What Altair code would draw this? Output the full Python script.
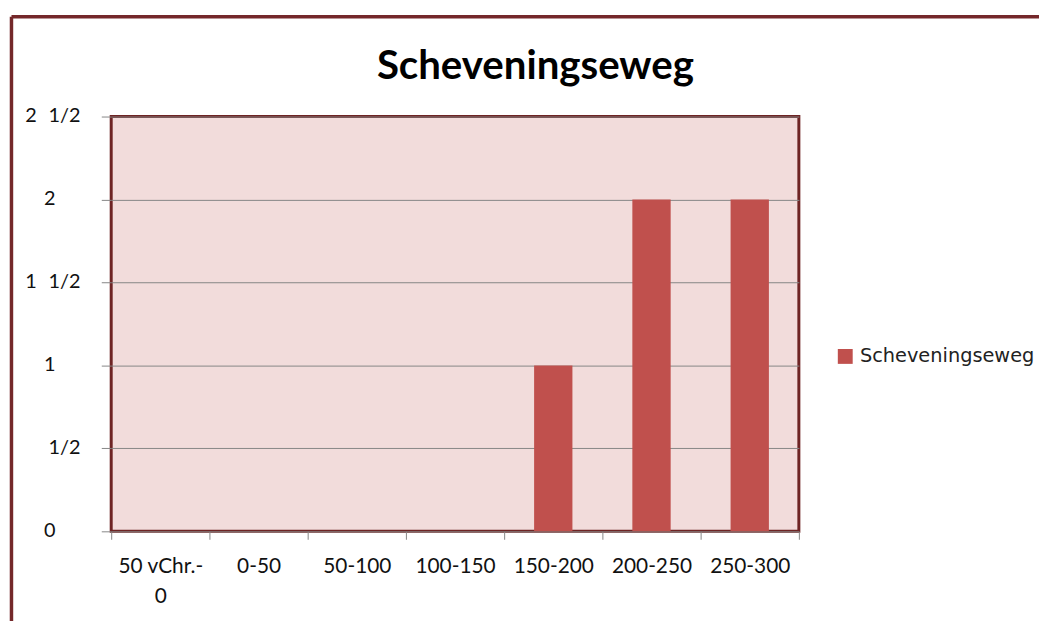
import altair as alt
import pandas as pd

# ---- data ----
title_text = "Scheveningseweg"
categories = ["50 vChr.-0", "0-50", "50-100", "100-150", "150-200", "200-250", "250-300"]
values = [0, 0, 0, 0, 1, 2, 2]
series_name = "Scheveningseweg"
y_tick_values = [0, 0.5, 1, 1.5, 2, 2.5]
y_tick_labels = ["0", "1/2", "1", "1 1/2", "2", "2 1/2"]
x_label_lines = {"50 vChr.-0": ["50 vChr.-", "0"]}

df = pd.DataFrame({"periode": categories, "aantal": values, "serie": series_name})
title_df = pd.DataFrame({"t": [title_text]})


def split_label(lbl):
    if " " in lbl:
        whole, frac = lbl.split(" ")
        return whole, frac
    if "/" in lbl:
        return "", lbl
    return lbl, ""


ylab_df = pd.DataFrame(
    {
        "v": y_tick_values,
        "whole": [split_label(l)[0] for l in y_tick_labels],
        "frac": [split_label(l)[1] for l in y_tick_labels],
    }
)

FONT = "Lato"

x_expr = "".join(
    f"datum.label == '{k}' ? {v!r} : " for k, v in x_label_lines.items()
) + "datum.label"

W, H = 693, 418
Y_SCALE = alt.Scale(domain=[0, 2.5], nice=False)
Y_AXIS = alt.Axis(
    title=None,
    values=y_tick_values,
    labels=False,
    grid=True,
    gridColor="#868686",
    gridWidth=1,
    tickSize=10,
    tickColor="#868686",
    domain=False,
)

bars = alt.Chart(df).mark_bar(width=alt.RelativeBandSize(0.39), color="#c0504d").encode(
    x=alt.X(
        "periode:N",
        sort=categories,
        scale=alt.Scale(paddingInner=0, paddingOuter=0),
        axis=alt.Axis(
            title=None,
            labelAngle=0,
            labelExpr=x_expr,
            tickBand="extent",
            tickSize=8,
            tickColor="#868686",
            domain=False,
            labelPadding=17,
            labelFontSize=21,
            labelLineHeight=30,
            labelColor="#111111",
            labelFont=FONT,
        ),
    ),
    y=alt.Y("aantal:Q", scale=Y_SCALE, axis=Y_AXIS),
    fill=alt.Fill(
        "serie:N",
        scale=alt.Scale(range=["#c0504d"]),
        legend=alt.Legend(
            title=None,
            orient="none",
            legendX=730,
            legendY=232,
            symbolType="square",
            symbolSize=225,
            symbolStrokeWidth=0,
            labelFontSize=19.5,
            labelFont="DejaVu Sans",
            labelColor="#222222",
            labelOffset=5,
            labelLimit=400,
        ),
    ),
)

ylab_style = dict(font=FONT, fontSize=20, color="#111111", align="right", baseline="middle")

ylab_int = (
    alt.Chart(ylab_df)
    .transform_filter("datum.frac == ''")
    .mark_text(**ylab_style)
    .encode(text="whole:N", y=alt.Y("v:Q", scale=Y_SCALE, axis=Y_AXIS), x=alt.value(-56))
)
ylab_mixed = (
    alt.Chart(ylab_df)
    .transform_filter("datum.frac != '' && datum.whole != ''")
    .mark_text(**ylab_style)
    .encode(text="whole:N", y=alt.Y("v:Q", scale=Y_SCALE, axis=Y_AXIS), x=alt.value(-75))
)
ylab_frac = (
    alt.Chart(ylab_df)
    .transform_filter("datum.frac != ''")
    .mark_text(**ylab_style)
    .encode(text="frac:N", y=alt.Y("v:Q", scale=Y_SCALE, axis=Y_AXIS), x=alt.value(-31))
)

title = alt.Chart(title_df).mark_text(
    font=FONT, fontSize=40.5, fontWeight="bold", color="#000000", align="center", baseline="alphabetic"
).encode(text="t:N", x=alt.value(427.5), y=alt.value(-38))

border_color = "#74282a"
frame_top = alt.Chart(title_df).mark_rule(color=border_color, strokeWidth=3.5).encode(
    x=alt.value(-100.5), x2=alt.value(1000), y=alt.value(-100.5)
)
frame_left = alt.Chart(title_df).mark_rule(color=border_color, strokeWidth=3.5).encode(
    x=alt.value(-100.5), y=alt.value(-100.5), y2=alt.value(600)
)

chart = (
    alt.layer(bars, ylab_int, ylab_mixed, ylab_frac, title, frame_top, frame_left)
    .properties(
        width=W,
        height=H,
        autosize=alt.AutoSizeParams(type="none"),
        padding={"left": 104, "top": 107, "right": 242, "bottom": 88},
    )
    .configure(background="white")
    .configure_view(fill="#f2dcdb", stroke="#6e2424", strokeWidth=3)
)

chart.save("out.html", embed_options={"renderer": "svg", "actions": False})
